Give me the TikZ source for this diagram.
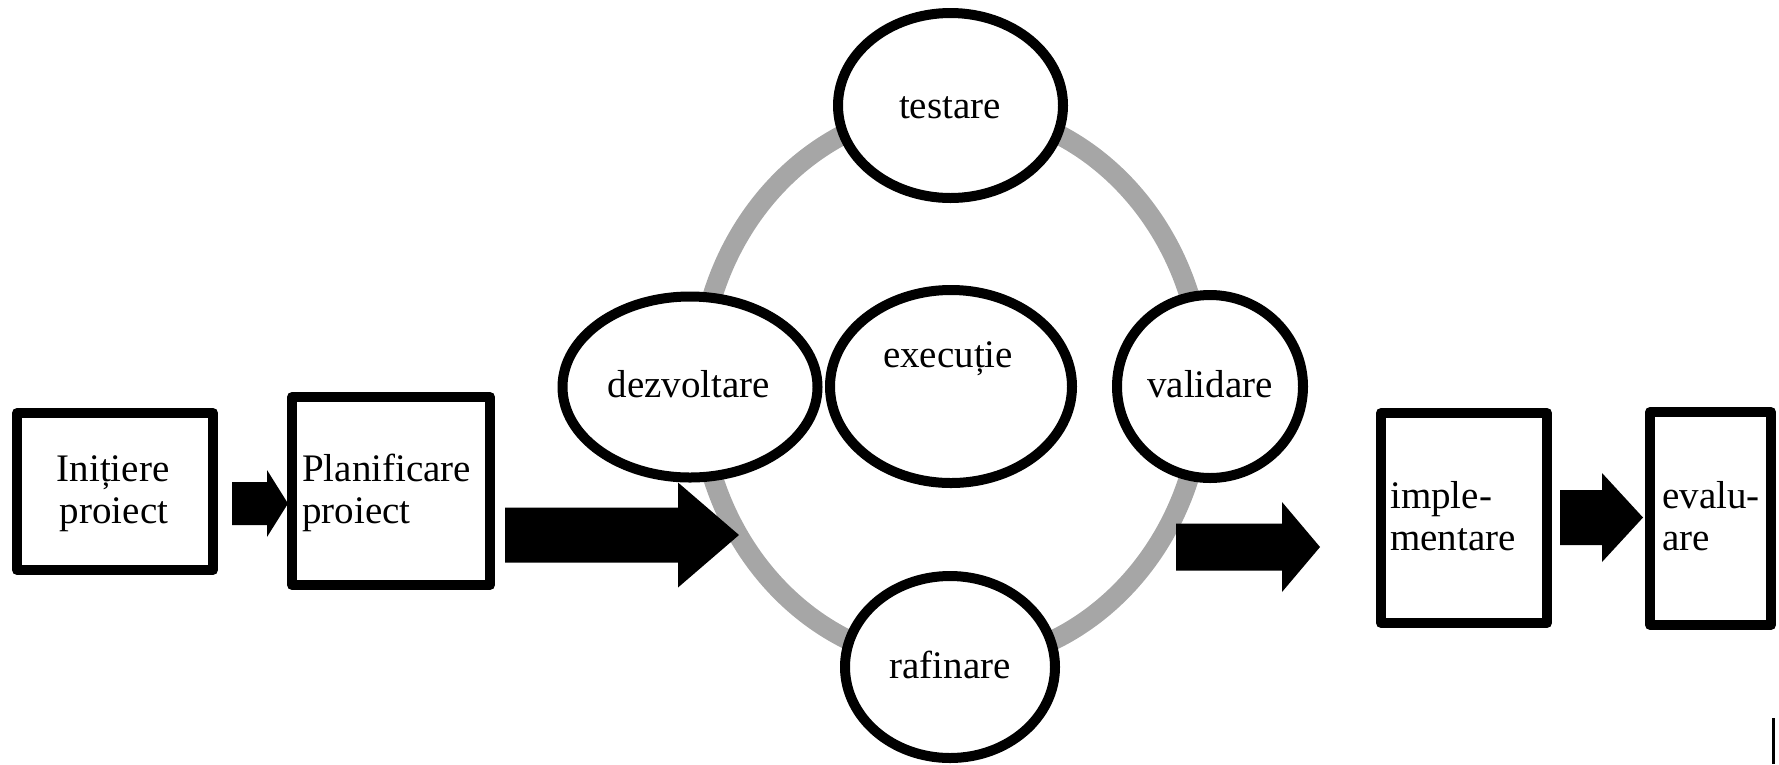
\documentclass[tikz,border=0pt]{standalone}
\usepackage{fontspec}
\setmainfont{Liberation Serif}
\usetikzlibrary{shapes.geometric,calc}
\definecolor{ringgray}{HTML}{A6A6A6}

% filled block arrow: start, tip, body half-width, head half-width, head length
\newcommand\blockarrow[5]{%
  \fill let \p1=(#1), \p2=(#2) in
    (\x1,\y1+#3pt) -- (\x2-#5pt,\y1+#3pt) -- (\x2-#5pt,\y1+#4pt) -- (\x2,\y2)
    -- (\x2-#5pt,\y1-#4pt) -- (\x2-#5pt,\y1-#3pt) -- (\x1,\y1-#3pt) -- cycle;}

\tikzset{
  outline/.style={draw=black, line width=10pt, line join=round},
  boxnode/.style={outline, rectangle, fill=white, inner sep=0pt},
  oval/.style={outline, ellipse, fill=white, inner sep=0pt},
  ring/.style={draw=ringgray, line width=20pt},
  lbl/.style={inner sep=0pt, font=\fontsize{39}{42}\selectfont},
}

\begin{document}
\begin{tikzpicture}[x=1pt, y=-1pt]
\useasboundingbox (0,0) rectangle (1779,764);

% project phase boxes
\node[boxnode, minimum width=196pt, minimum height=157pt] (ini) at (115,491.5) {};
\node[boxnode, minimum width=198pt, minimum height=188pt] (plan) at (391,491) {};
\node[boxnode, minimum width=166pt, minimum height=210pt] (impl) at (1464,518) {};
\node[boxnode, minimum width=121pt, minimum height=213pt] (eval) at (1710.5,518.5) {};

\node[lbl, anchor=base] (iniA) at (113,481) {Inițiere};
\node[lbl, anchor=base] (iniB) at (114,523) {proiect};
\node[lbl, anchor=base west] (planA) at (302,481) {Planificare};
\node[lbl, anchor=base west] (planB) at (302,523) {proiect};
\node[lbl, anchor=base west] (implA) at (1390,508) {imple-};
\node[lbl, anchor=base west] (implB) at (1390,550) {mentare};
\node[lbl, anchor=base west] (evalA) at (1662,508) {evalu-};
\node[lbl, anchor=base west] (evalB) at (1662,550) {are};

% execution cycle
\coordinate (ringc) at (951,386);
\draw[ring] (ringc) ellipse [x radius=252, y radius=278];

% block arrows between the phases
\coordinate (a1s) at (232,503.5);  \coordinate (a1t) at (288,503.5);
\coordinate (a2s) at (505,535);    \coordinate (a2t) at (739,535);
\coordinate (a3s) at (1176,547);   \coordinate (a3t) at (1320,547);
\coordinate (a4s) at (1560,517.5); \coordinate (a4t) at (1643,517.5);
\blockarrow{a1s}{a1t}{21.5}{33.5}{21}
\blockarrow{a2s}{a2t}{27.5}{52.5}{61}
\blockarrow{a3s}{a3t}{23.5}{45}{38}
\blockarrow{a4s}{a4t}{27.5}{44.5}{41}

% cycle stages
\node[oval, minimum width=225pt, minimum height=185pt] (test) at (950.5,105.5) {};
\node[oval, minimum width=255pt, minimum height=181pt] (dezv) at (690,387) {};
\node[oval, minimum width=242pt, minimum height=193pt] (exec) at (951,386.5) {};
\node[oval, minimum width=186pt, minimum height=183pt] (valid) at (1210,386.5) {};
\node[oval, minimum width=210pt, minimum height=182pt] (rafin) at (950,667) {};

\node[lbl, anchor=base] (testT) at (950,118) {testare};
\node[lbl, anchor=base] (dezvT) at (689,397) {dezvoltare};
\node[lbl, anchor=base] (execT) at (948,367) {execuție};
\node[lbl, anchor=base] (validT) at (1210,397) {validare};
\node[lbl, anchor=base] (rafinT) at (950,678) {rafinare};

% text cursor mark at the lower right
\coordinate (curtop) at (1773.5,718);
\coordinate (curbot) at (1773.5,764);
\draw[line width=3.5pt] (curtop) -- (curbot);
\end{tikzpicture}
\end{document}
